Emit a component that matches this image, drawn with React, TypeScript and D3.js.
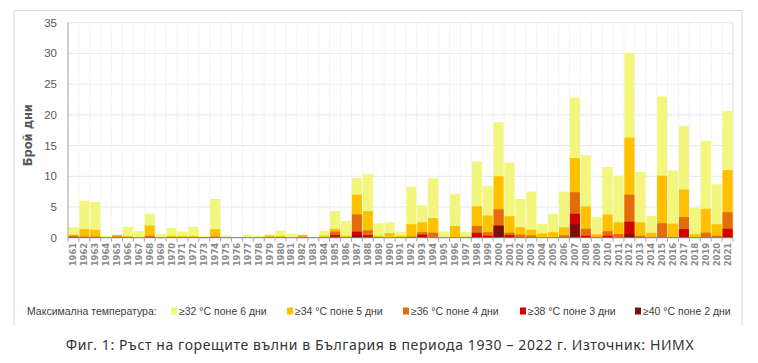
import React from "react";
import * as d3 from "d3";

const years: string[] = d3.range(1961, 2022).map(String);

// cumulative day counts per threshold (each series is a subset of the previous)
const t32: number[] = [1.7, 6.0, 5.8, 0.3, 0.5, 1.8, 1.1, 3.9, 0.6, 1.6, 1.0, 1.8, 0.2, 6.3, 0.35, 0, 0.5, 0.3, 0.5, 1.15, 0.65, 0.45, 0, 1.1, 4.35, 2.7, 9.7, 10.4, 2.35, 2.5, 0.9, 8.3, 5.3, 9.7, 1.0, 7.1, 0.9, 12.4, 8.4, 18.8, 12.2, 6.3, 7.5, 2.25, 3.9, 7.5, 22.8, 13.4, 3.35, 11.5, 10.1, 30.1, 10.7, 3.55, 23.0, 10.95, 18.2, 4.85, 15.8, 8.7, 20.6];
const t34: number[] = [0.5, 1.4, 1.3, 0, 0.45, 0.3, 0, 2.0, 0, 0.3, 0.3, 0.3, 0.1, 1.4, 0, 0, 0, 0, 0.35, 0.3, 0, 0.45, 0, 0.3, 1.45, 0.3, 7.0, 4.35, 0.3, 0.75, 0.3, 2.2, 2.5, 3.2, 0, 1.9, 0.2, 5.1, 3.6, 10.0, 3.5, 1.7, 1.3, 0.7, 0.9, 1.7, 12.95, 5.1, 0.55, 3.8, 2.5, 16.3, 2.5, 0.8, 10.1, 2.3, 7.85, 0.55, 4.7, 2.2, 11.0];
const t36: number[] = [0.3, 0.2, 0.2, 0, 0.2, 0, 0, 0.3, 0, 0, 0, 0, 0, 0.2, 0, 0, 0, 0, 0, 0, 0, 0.15, 0, 0, 1.0, 0, 3.8, 1.2, 0, 0, 0, 0.2, 0.9, 0.8, 0, 0, 0, 1.9, 0.9, 4.6, 0.8, 0.5, 0.4, 0, 0, 0.4, 7.4, 1.45, 0, 1.05, 0.6, 7.0, 0.3, 0, 2.35, 0, 3.35, 0, 0.8, 0.3, 4.15];
const t38: number[] = [0.1, 0, 0, 0, 0, 0, 0, 0.1, 0, 0, 0, 0, 0, 0, 0, 0, 0, 0, 0, 0, 0, 0, 0, 0, 0.45, 0, 1.0, 0.4, 0, 0, 0, 0, 0.5, 0, 0, 0, 0, 0.8, 0.3, 2.0, 0.4, 0, 0, 0, 0, 0, 3.9, 0.3, 0, 0.3, 0, 2.6, 0, 0, 0, 0, 1.4, 0, 0, 0, 1.45];
const t40: number[] = [0, 0, 0, 0, 0, 0, 0, 0, 0, 0, 0, 0, 0, 0, 0, 0, 0, 0, 0, 0, 0, 0, 0, 0, 0, 0, 0.3, 0, 0, 0, 0, 0, 0, 0, 0, 0, 0, 0, 0, 1.9, 0, 0, 0, 0, 0, 0, 2.15, 0, 0, 0, 0, 0.5, 0, 0, 0, 0, 0, 0, 0, 0, 0];

const seriesNames: string[] = ["≥32 °C поне 6 дни", "≥34 °C поне 5 дни", "≥36 °C поне 4 дни", "≥38 °C поне 3 дни", "≥40 °C поне 2 дни"];
const seriesColors: string[] = ["#F3F67C", "#FFC000", "#E46C0A", "#D30000", "#7A0F0F"];
const yTicks: number[] = [0, 5, 10, 15, 20, 25, 30, 35];
const legendTitle = "Максимална температура:";
const yTitle = "Брой дни";
const caption = "Фиг. 1: Ръст на горещите вълни в България в периода 1930 – 2022 г. Източник: НИМХ";

const allSeries = [t32, t34, t36, t38, t40];

export default function App() {
  const left = 68, right = 733, top = 22.7, bottom = 237.7;
  const x = d3.scaleBand<string>().domain(years).range([left, right]).paddingInner(0.08).paddingOuter(0.04);
  const y = d3.scaleLinear().domain([0, 35]).range([bottom, top]);
  const boundaries = d3.range(years.length + 1).map((i) => left + i * ((right - left) / years.length));
  const legendX = [171, 287, 403, 520, 635];

  return (
    <svg width={758} height={363} style={{ position: "absolute", left: 0, top: 0, background: "#fff" }}>
      {/* frame */}
      <path d="M14,326 V10.5 H742 V326" fill="none" stroke="#d9d9d9" strokeWidth={1} />
      {/* horizontal grid */}
      {yTicks.map((t) => (
        <line key={"g" + t} x1={left} x2={right} y1={y(t)} y2={y(t)} stroke="#e8e8e8" strokeWidth={1} />
      ))}
      {/* vertical dotted grid */}
      {boundaries.map((bx, i) => (
        <line key={"v" + i} x1={bx} x2={bx} y1={top} y2={bottom} stroke="#e3e3e3" strokeWidth={0.8} strokeDasharray="1.5,1.5" />
      ))}
      <line x1={right} x2={right} y1={top} y2={bottom} stroke="#e0e0e0" />
      {/* bars */}
      {allSeries.map((s, si) => (
        <g key={"s" + si}>
          {s.map((v, i) =>
            v > 0 ? (
              <rect key={i} x={x(years[i])} y={y(v)} width={x.bandwidth()} height={bottom - y(v)} fill={seriesColors[si]} />
            ) : null
          )}
        </g>
      ))}
      {/* axes */}
      <line x1={left} x2={left} y1={top} y2={bottom} stroke="#a6a6a6" />
      <line x1={left} x2={right} y1={bottom} y2={bottom} stroke="#7f7f7f" />
      {boundaries.map((bx, i) => (
        <line key={"t" + i} x1={bx} x2={bx} y1={bottom} y2={bottom + 4} stroke="#a6a6a6" />
      ))}
      {yTicks.map((t) => (
        <text key={"yl" + t} x={57} y={y(t)} dy="0.35em" textAnchor="end" fontFamily="Liberation Sans, Arial, sans-serif" fontSize={11.5} fill="#595959">
          {t}
        </text>
      ))}
      {years.map((yr) => {
        const cx = (x(yr) as number) + x.bandwidth() / 2;
        return (
          <text key={"xl" + yr} transform={`translate(${cx},${bottom + 5}) rotate(-90)`} textAnchor="end" dy="0.35em" fontFamily="DejaVu Sans, sans-serif" fontWeight="bold" fontSize={8.5} fill="#8a8a8a">
            {yr}
          </text>
        );
      })}
      <text transform={`translate(28,${(top + bottom) / 2 + 5}) rotate(-90)`} textAnchor="middle" fontFamily="DejaVu Sans, sans-serif" fontWeight="bold" fontSize={11.5} fill="#595959" dy="0.35em">
        {yTitle}
      </text>
      {/* legend */}
      <text x={27} y={311} dy="0.35em" fontFamily="Liberation Sans, Arial, sans-serif" fontSize={10.5} fill="#404040">
        {legendTitle}
      </text>
      {seriesNames.map((n, i) => (
        <g key={"lg" + i}>
          <rect x={legendX[i]} y={307.5} width={6} height={7} fill={seriesColors[i]} />
          <text x={legendX[i] + 8} y={311} dy="0.35em" fontFamily="Liberation Sans, Arial, sans-serif" fontSize={10.5} fill="#404040">
            {n}
          </text>
        </g>
      ))}
      <text x={380} y={345} dy="0.35em" textAnchor="middle" fontFamily="Noto Sans, sans-serif" fontSize={14} letterSpacing={0.6} fill="#333">
        {caption}
      </text>
    </svg>
  );
}
